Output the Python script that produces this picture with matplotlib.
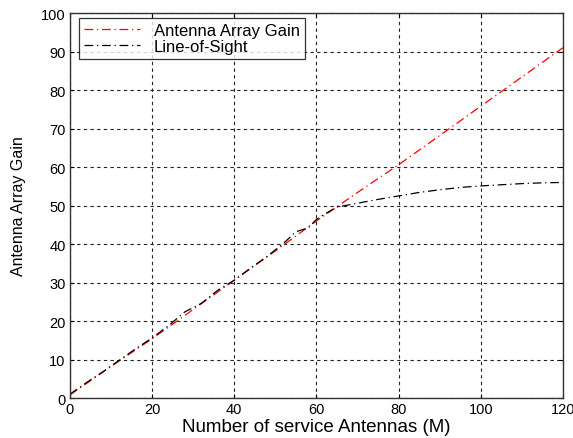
import matplotlib.pyplot as plt

# Antenna Array Gain: grows roughly linearly with M
m_gain = [0, 10, 20, 30, 40, 50, 60, 70, 80, 90, 100, 110, 120]
gain = [0.8, 8.2, 15.4, 23.0, 30.6, 38.2, 46.0, 53.4, 60.6, 68.2, 75.8, 83.4, 91.0]

# Line-of-Sight: follows the gain then saturates around 56
m_los = [0, 4, 8, 12, 16, 20, 24, 28, 32, 36, 40, 44, 48, 52, 55, 58, 60,
         62, 65, 70, 75, 80, 85, 90, 95, 100, 105, 110, 115, 120]
los = [1.0, 4.0, 6.8, 9.8, 12.8, 15.6, 18.8, 22.4, 24.6, 28.0, 30.6, 33.8, 36.8, 40.2, 43.2,
       44.2, 46.4, 47.8, 49.6, 50.6, 51.6, 52.5, 53.4, 54.1, 54.7, 55.1, 55.4, 55.7, 55.9, 56.0]

FONT = ["Liberation Sans", "DejaVu Sans"]

fig = plt.figure(figsize=(5.73, 4.39), dpi=100)
ax = fig.add_axes([0.122, 0.091, 0.8605, 0.877])
plt.rcParams["font.family"] = FONT

ax.plot(m_gain, gain, color="red", linestyle=(0, (7, 3, 1, 3)), linewidth=0.9,
        label="Antenna Array Gain")
ax.plot(m_los, los, color="black", linestyle=(0, (7, 3, 1, 3)), linewidth=0.9,
        label="Line-of-Sight")

ax.set_xlim(0, 120)
ax.set_ylim(0, 100)
ax.set_xticks(range(0, 121, 20))
ax.set_yticks(range(0, 101, 10))
ax.grid(True, color="#222222", linestyle=(0, (3, 3)), linewidth=0.8)
ax.set_axisbelow(True)

ax.tick_params(direction="in", top=True, right=True, labelsize=10.5, length=3, pad=3)
for lbl in ax.get_xticklabels() + ax.get_yticklabels():
    lbl.set_family(FONT)
for spine in ax.spines.values():
    spine.set_linewidth(1.0)
    spine.set_color("#333333")

ax.set_xlabel("Number of service Antennas (M)", fontsize=13.5, family=FONT, labelpad=1)
ax.set_ylabel("Antenna Array Gain", fontsize=11.5, family=FONT, labelpad=11)

leg = ax.legend(loc="upper left", frameon=True, fancybox=False,
                edgecolor="black", handlelength=3.4, handletextpad=0.8,
                borderpad=0.3, labelspacing=0.05, borderaxespad=0,
                bbox_to_anchor=(0.018, 0.987),
                prop={"family": FONT, "size": 12})
leg.get_frame().set_linewidth(0.9)

fig.savefig("out.png", dpi=100)
plt.close(fig)
